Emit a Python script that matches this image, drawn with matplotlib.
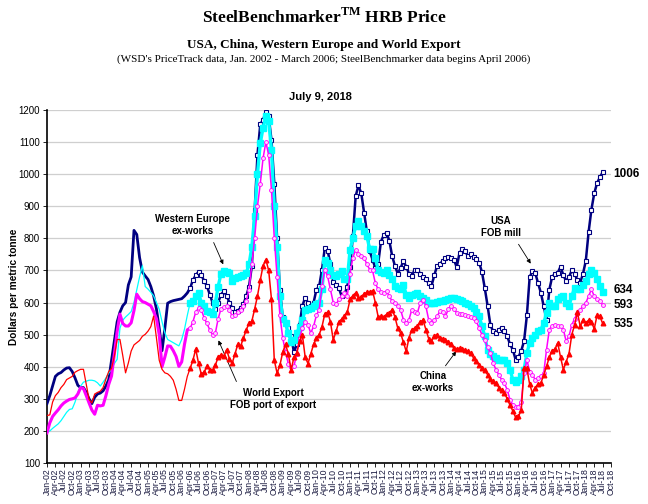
import numpy as np
import matplotlib
matplotlib.use("Agg")
import matplotlib.pyplot as plt

# monthly prices, Jan 2002 .. Jul 2018 (US$ per metric tonne)
usa = [
    285, 310, 340, 370, 378, 382, 390, 396, 397, 385, 365, 342,   # 2002
    335, 335, 320, 300, 285, 305, 315, 318, 325, 340, 360, 420,   # 2003
    480, 540, 570, 590, 600, 655, 680, 825, 812, 740, 695, 683,   # 2004
    672, 650, 621, 580, 520, 450, 520, 598, 603, 606, 608, 610,   # 2005
    612, 620, 630, 645, 670, 685, 696, 685, 668, 651, 625, 600,   # 2006
    580, 600, 625, 635, 622, 600, 583, 570, 575, 583, 595, 620,   # 2007
    650, 714, 890, 1060, 1155, 1170, 1195, 1180, 1106, 971, 800, 640,  # 2008
    555, 535, 522, 495, 445, 470, 530, 590, 615, 600, 590, 600,   # 2009
    640, 651, 703, 771, 762, 720, 665, 656, 645, 620, 625, 650,   # 2010
    712, 807, 932, 965, 940, 880, 822, 760, 734, 708, 720, 790,   # 2011
    810, 818, 792, 745, 714, 690, 708, 729, 712, 690, 682, 703,   # 2012
    703, 690, 680, 672, 661, 651, 685, 714, 720, 730, 738, 743,   # 2013
    740, 734, 710, 755, 766, 760, 745, 750, 742, 735, 724, 695,   # 2014
    645, 590, 530, 510, 505, 516, 521, 512, 495, 470, 453, 422,   # 2015
    430, 450, 480, 560, 680, 698, 692, 660, 630, 589, 547, 640,   # 2016
    680, 690, 693, 712, 685, 667, 680, 700, 690, 670, 662, 690,   # 2017
    730, 820, 890, 940, 972, 990, 1006,                           # 2018
]
west_europe = [
    195, 200, 208, 215, 222, 232, 245, 258, 267, 269, 290, 320,
    340, 352, 355, 358, 358, 356, 350, 340, 352, 365, 380, 392,
    410, 423, 520, 545, 555, 563, 572, 600, 640, 680, 715, 650,
    642, 632, 621, 600, 579, 540, 506, 485, 480, 475, 470, 465,
    485, 517, 560, 599, 605, 620, 630, 600, 590, 575, 570, 565,
    600, 650, 690, 698, 695, 692, 667, 677, 680, 682, 685, 692,
    719, 774, 870, 1000, 1096, 1145, 1180, 1165, 1075, 900, 774, 620,
    550, 535, 504, 478, 483, 504, 525, 545, 578, 580, 583, 589,
    595, 599, 641, 734, 724, 703, 685, 682, 688, 698, 672, 672,
    765, 800, 839, 854, 839, 823, 807, 766, 766, 740, 703, 695,
    693, 703, 685, 672, 651, 645, 641, 656, 625, 615, 625, 628,
    630, 620, 615, 609, 599, 599, 599, 602, 604, 606, 609, 612,
    614, 615, 612, 609, 605, 600, 595, 588, 583, 570, 557, 526,
    495, 453, 440, 432, 428, 422, 422, 422, 411, 391, 359, 354,
    360, 370, 391, 443, 474, 490, 500, 510, 516, 536, 568, 599,
    590, 589, 610, 618, 620, 600, 589, 620, 646, 643, 641, 656,
    667, 690, 703, 693, 672, 651, 634,
]
world_export = [
    194, 225, 245, 256, 266, 278, 287, 293, 298, 300, 303, 315,
    335, 332, 310, 287, 265, 252, 280, 278, 280, 310, 345, 371,
    440, 510, 564, 535, 527, 527, 537, 575, 626, 612, 603, 600,
    595, 590, 572, 550, 500, 400, 430, 465, 464, 450, 432, 401,
    415, 470, 515, 520, 540, 570, 583, 578, 552, 535, 515, 500,
    505, 550, 580, 585, 589, 578, 557, 560, 570, 578, 590, 605,
    640, 720, 800, 900, 970, 1050, 1100, 1060, 950, 800, 680, 560,
    490, 445, 410, 400, 402, 440, 490, 520, 540, 530, 505, 526,
    560, 578, 651, 703, 682, 641, 600, 594, 610, 620, 630, 620,
    690, 740, 765, 750, 745, 740, 719, 703, 700, 661, 641, 632,
    630, 635, 620, 604, 599, 590, 578, 547, 536, 547, 578, 572,
    568, 599, 609, 589, 547, 536, 545, 557, 573, 570, 557, 580,
    588, 580, 568, 563, 563, 560, 557, 555, 552, 542, 520, 500,
    484, 460, 443, 411, 391, 375, 360, 349, 328, 297, 281, 276,
    276, 290, 380, 422, 385, 375, 359, 365, 370, 380, 453, 516,
    528, 531, 526, 526, 516, 479, 495, 530, 550, 565, 578, 589,
    599, 620, 641, 620, 612, 605, 593,
]
china = [
    248, 250, 290, 310, 320, 335, 345, 360, 365, 370, 383, 388,
    392, 392, 345, 298, 287, 315, 320, 324, 335, 362, 385, 395,
    433, 485, 485, 435, 381, 412, 449, 468, 475, 482, 495, 501,
    511, 525, 558, 490, 420, 392, 381, 378, 370, 358, 330, 295,
    295, 330, 370, 395, 420, 455, 411, 377, 383, 401, 391, 389,
    405, 430, 437, 432, 453, 425, 411, 440, 470, 464, 490, 515,
    535, 542, 580, 620, 670, 715, 734, 700, 610, 420, 380, 405,
    445, 470, 440, 390, 430, 443, 480, 500, 430, 410, 440, 470,
    490, 500, 525, 565, 570, 540, 484, 510, 540, 548, 557, 570,
    610, 622, 630, 615, 618, 627, 632, 632, 637, 600, 556, 557,
    556, 563, 567, 578, 555, 520, 505, 476, 448, 490, 516, 520,
    526, 540, 545, 516, 488, 480, 497, 500, 490, 488, 482, 478,
    470, 458, 455, 458, 455, 453, 448, 443, 427, 417, 405, 395,
    391, 375, 362, 355, 349, 335, 328, 318, 300, 280, 262, 242,
    245, 265, 395, 395, 345, 318, 335, 345, 349, 375, 401, 430,
    450, 455, 474, 430, 391, 415, 440, 500, 530, 570, 526, 545,
    536, 545, 540, 518, 560, 557, 535,
]
end_labels = ["1006", "634", "593", "535"]
months = ["Jan", "Apr", "Jul", "Oct"]
years = list(range(2002, 2019))

SBB_START = 51  # April 2006, SteelBenchmarker data begins

NAVY = "#000080"
CYAN = "#00ffff"
MAGENTA = "#ff00ff"
RED = "#ff0000"
SANS = "Liberation Sans"
SERIF = "Liberation Serif"

x = np.arange(len(usa))
pre = slice(0, SBB_START + 1)
post = slice(SBB_START, len(usa))

fig = plt.figure(figsize=(6.48, 5.04), dpi=100)
ax = fig.add_axes([0.0725, 0.0813, 0.8705, 0.7004])

usa = np.array(usa)
west_europe = np.array(west_europe)
world_export = np.array(world_export)
china = np.array(china)

# WSD PriceTrack part (no markers)
ax.plot(x[pre], usa[pre], color=NAVY, lw=2.0, zorder=3)
ax.plot(x[pre], west_europe[pre], color=CYAN, lw=0.9, zorder=4)
ax.plot(x[pre], world_export[pre], color=MAGENTA, lw=2.2, zorder=5)
ax.plot(x[pre], china[pre], color=RED, lw=0.9, zorder=6)

# SteelBenchmarker part (with markers)
ax.plot(x[post], usa[post], color=NAVY, lw=1.8, marker="s", ms=3.3,
        mfc="white", mec=NAVY, mew=0.8, zorder=3)
ax.plot(x[post], west_europe[post], color=CYAN, lw=2.4, marker="s", ms=4.2,
        mfc=CYAN, mec=CYAN, zorder=4)
ax.plot(x[post], world_export[post], color=MAGENTA, lw=1.1, marker="o", ms=2.8,
        mfc="#ffd0ff", mec=MAGENTA, mew=0.6, zorder=5)
ax.plot(x[post], china[post], color=RED, lw=1.1, marker="^", ms=3.3,
        mfc=RED, mec=RED, zorder=6)

ax.set_xlim(0, 201)
ax.set_ylim(100, 1200)
ax.set_yticks(np.arange(100, 1201, 100))
ax.yaxis.grid(True, color="#cfcfcf", lw=0.9)
ax.set_axisbelow(True)

ticks = np.arange(0, 202, 3)
labels = [f"{months[i % 4]}-{str(years[i // 4])[2:]}" for i in range(len(ticks))]
ax.set_xticks(ticks)
ax.set_xticklabels(labels, rotation=90, fontsize=6.3, family=SANS, color="#1a1a40")
for lab in ax.get_yticklabels():
    lab.set_fontsize(7)
    lab.set_family(SANS)
ax.tick_params(axis="x", length=3, width=0.6, pad=1)
ax.tick_params(axis="y", length=3, width=0.6, pad=2)

for side in ["top", "right"]:
    ax.spines[side].set_visible(False)
for side in ["left", "bottom"]:
    ax.spines[side].set_linewidth(1.2)

ax.set_ylabel("Dollars per metric tonne", fontsize=7.3, family=SANS,
              fontweight="bold", labelpad=0)

# series labels with arrows
ann = dict(fontsize=7, family=SANS, fontweight="bold", ha="center",
           va="center", linespacing=1.2)
arrow = dict(arrowstyle="-|>", color="black", lw=0.6, mutation_scale=6)

ax.text(52, 842, "Western Europe\nex-works", **ann)
ax.annotate("", xy=(63.2, 711), xytext=(59, 795), arrowprops=arrow)

ax.text(80.7, 300, "World Export\nFOB port of export", **ann)
ax.annotate("", xy=(60.7, 490), xytext=(67.9, 346), arrowprops=arrow)

ax.text(137.5, 352, "China\nex-works", **ann)
ax.annotate("", xy=(146.4, 455), xytext=(141.4, 396), arrowprops=arrow)

ax.text(161.8, 835, "USA\nFOB mill", **ann)
ax.annotate("", xy=(172.9, 714), xytext=(167.5, 789), arrowprops=arrow)

# latest values at the right edge
for txt, yv in zip(end_labels, [1000, 639, 592, 533]):
    ax.text(201.8, yv, txt, fontsize=8.5, family=SANS, fontweight="bold",
            ha="left", va="center", clip_on=False)

# titles
fig.text(0.5, 0.966, "SteelBenchmarker$^{\\mathregular{TM}}$ HRB Price",
         ha="center", va="center", fontsize=12.5, family=SERIF, fontweight="bold")
fig.text(0.5, 0.911, "USA, China, Western Europe and World Export",
         ha="center", va="center", fontsize=9.5, family=SERIF, fontweight="bold")
fig.text(0.5, 0.883, "(WSD's PriceTrack data, Jan. 2002 - March 2006; "
         "SteelBenchmarker data begins April 2006)",
         ha="center", va="center", fontsize=8, family=SERIF)
fig.text(0.495, 0.808, "July 9, 2018", ha="center", va="center",
         fontsize=8, family=SANS, fontweight="bold")

fig.savefig("out.png", dpi=100)
plt.close(fig)
